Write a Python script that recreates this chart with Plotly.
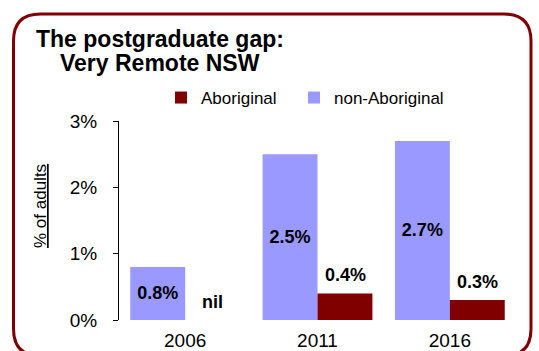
import plotly.graph_objects as go

# Census years and share of adults holding a postgraduate qualification (%)
years = ["2006", "2011", "2016"]
non_aboriginal = [0.8, 2.5, 2.7]
aboriginal = [0.0, 0.4, 0.3]
y_ticks = [0, 1, 2, 3]
y_tick_labels = ["0%", "1%", "2%", "3%"]

FONT = "Liberation Sans, Arial, sans-serif"
W, H = 539, 351
L, R, T, B = 119, 23, 121, 31
PW, PH = W - L - R, H - T - B


def px(x):
    """Horizontal pixel -> paper fraction."""
    return (x - L) / PW


def py(y):
    """Vertical pixel (from top) -> paper fraction."""
    return (T + PH - y) / PH


def label(v):
    return "nil" if v == 0 else f"{v:.1f}%"


fig = go.Figure()
fig.add_trace(go.Bar(
    name="non-Aboriginal", x=years, y=non_aboriginal,
    marker=dict(color="#9999FF", line=dict(width=0)),
    text=[f"<b>{label(v)}</b>" for v in non_aboriginal],
    textposition="inside", insidetextanchor="middle",
    textfont=dict(family=FONT, size=18, color="black"),
    legend="legend2",
))
fig.add_trace(go.Bar(
    name="Aboriginal", x=years, y=aboriginal,
    marker=dict(color="#800000", line=dict(width=0)),
    legend="legend",
))

annotations = []
# value labels above the Aboriginal bars (x given as category index)
for i, v in enumerate(aboriginal):
    annotations.append(dict(
        x=i, y=v, xref="x", yref="y", xshift=27.5, yshift=18,
        text=f"<b>{label(v)}</b>", showarrow=False,
        font=dict(family=FONT, size=18, color="black"),
        xanchor="center", yanchor="middle",
    ))

# two-line heading
for txt, yy in [("The postgraduate gap:", 39), ("Very Remote NSW", 63)]:
    annotations.append(dict(
        x=px(160), y=py(yy), xref="paper", yref="paper",
        text=f"<b>{txt}</b>", showarrow=False,
        font=dict(family=FONT, size=23, color="black"),
        xanchor="center", yanchor="middle",
    ))

# underlined axis title
annotations.append(dict(
    x=px(40), y=py(206), xref="paper", yref="paper",
    text="<u>% of adults</u>", showarrow=False, textangle=-90,
    font=dict(family=FONT, size=17, color="black"),
    xanchor="center", yanchor="middle",
))

# rounded frame around the chart
lft, rgt, top, bot, rad = 13.5, 531, 14, 356, 27
path = (
    f"M {px(lft)},{py(top + rad)} "
    f"Q {px(lft)},{py(top)} {px(lft + rad)},{py(top)} "
    f"L {px(rgt - rad)},{py(top)} "
    f"Q {px(rgt)},{py(top)} {px(rgt)},{py(top + rad)} "
    f"L {px(rgt)},{py(bot - rad)} "
    f"Q {px(rgt)},{py(bot)} {px(rgt - rad)},{py(bot)} "
    f"L {px(lft + rad)},{py(bot)} "
    f"Q {px(lft)},{py(bot)} {px(lft)},{py(bot - rad)} Z"
)

legend_style = dict(
    orientation="h", xanchor="left", yanchor="middle",
    font=dict(family=FONT, size=17, color="black"),
    bgcolor="rgba(0,0,0,0)", itemwidth=30,
)

fig.update_layout(
    width=W, height=H,
    margin=dict(l=L, r=R, t=T, b=B, pad=0, autoexpand=False),
    paper_bgcolor="white", plot_bgcolor="white",
    barmode="group", bargap=0.17, bargroupgap=0,
    font=dict(family=FONT, color="black"),
    showlegend=True,
    legend=dict(x=px(161), y=py(98), **legend_style),
    legend2=dict(x=px(294), y=py(98), **legend_style),
    xaxis=dict(
        type="category", categoryorder="array", categoryarray=years,
        range=[-0.5, len(years) - 0.5], autorange=False, automargin=False,
        showline=False, ticks="", showgrid=False, zeroline=False,
        tickfont=dict(family=FONT, size=19, color="black"),
        ticklabelstandoff=7,
    ),
    yaxis=dict(
        range=[0, 3], autorange=False, tickvals=y_ticks, ticktext=y_tick_labels,
        automargin=False,
        showline=True, linecolor="black", linewidth=1,
        ticks="outside", ticklen=5, tickcolor="black",
        showgrid=False, zeroline=False,
        tickfont=dict(family=FONT, size=19, color="black"),
        ticklabelstandoff=12,
    ),
    annotations=annotations,
    shapes=[dict(type="path", xref="paper", yref="paper", path=path,
                 line=dict(color="#800000", width=3), layer="above")],
)

fig.write_html("out.html")
